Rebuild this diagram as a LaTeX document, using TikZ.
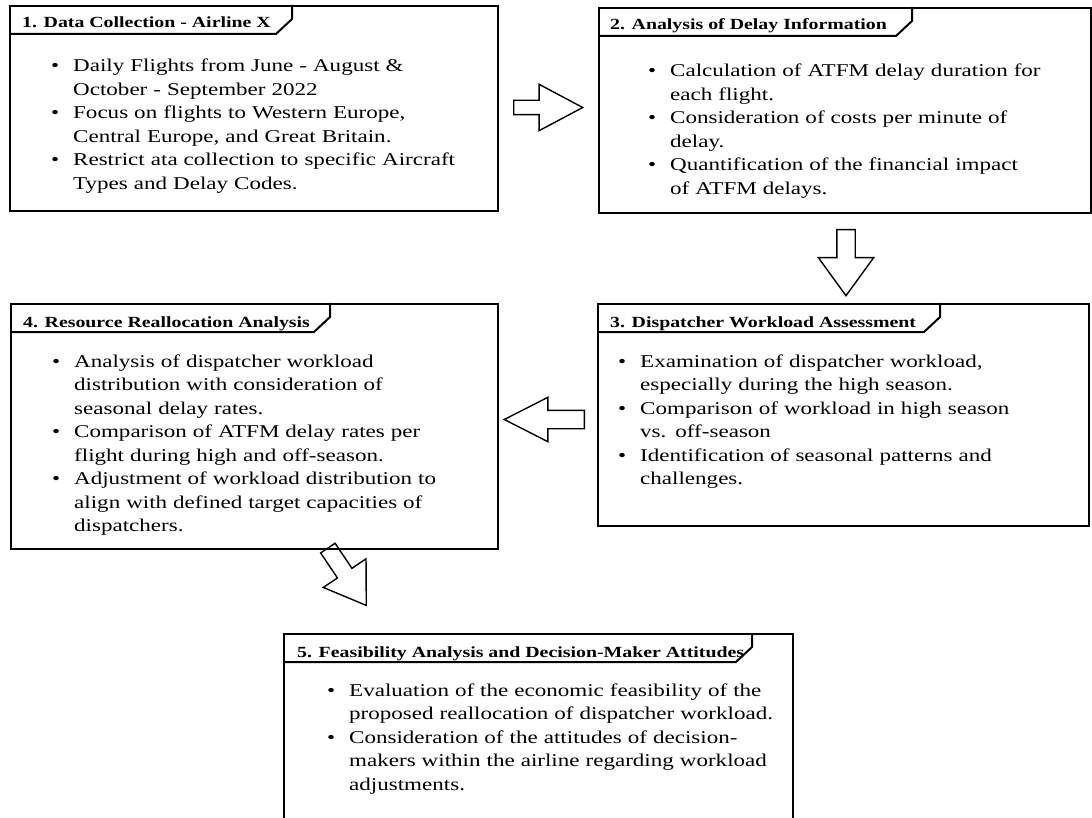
\documentclass[tikz,border=0pt]{standalone}
\usepackage{fontspec}
\setmainfont{Liberation Serif}[FakeStretch=1.28]
\usetikzlibrary{shapes.arrows,calc}
\newcommand{\bpt}{\leavevmode\llap{\textbullet\hspace{14pt}}}
\tikzset{
  stage/.style={draw=black,line width=2pt,anchor=north west,inner sep=0pt},
  ttl/.style={font=\fontsize{15.5}{18}\selectfont\bfseries,anchor=base west,inner sep=0pt},
  body/.style={font=\fontsize{18}{23.5}\selectfont,text width=480pt,align=left,
    anchor=base west,inner sep=0pt},
  bigarrow/.style={single arrow,draw=black,line width=1.4pt,inner xsep=0pt,
    inner ysep=#1,minimum width=0pt,anchor=tail},
  % title tab of a frame
  pics/tab/.style={code={
    \draw[line width=2pt] (0,29) -- (#1-16,29) -- (#1,14) -- (#1,0);
  }},
}

\begin{document}
\begin{tikzpicture}[x=1pt,y=-1pt]
  \useasboundingbox (0,0) rectangle (1092,818);
  \clip (0,0) rectangle (1092,818);
  \fill[white] (0,0) rectangle (1092,818);

  % frames
  \node[stage,minimum width=488,minimum height=205] (collect) at (9,5) {};
  \node[stage,minimum width=492,minimum height=205] (delay) at (598,7) {};
  \node[stage,minimum width=491,minimum height=222] (workload) at (597,303) {};
  \node[stage,minimum width=487,minimum height=245] (realloc) at (10,303) {};
  \node[stage,minimum width=509,minimum height=200] (feasible) at (283,633) {};

  \pic at (collect.north west) {tab=283};
  \pic at (delay.north west) {tab=314};
  \pic at (workload.north west) {tab=343};
  \pic at (realloc.north west) {tab=320};
  \pic at (feasible.north west) {tab=469};

  % titles
  \node[ttl] (collect-t) at ($(collect.north west)+(13,23)$) {1. Data Collection - Airline X};
  \node[ttl] (delay-t) at ($(delay.north west)+(12,23)$) {2. Analysis of Delay Information};
  \node[ttl] (workload-t) at ($(workload.north west)+(13,24)$) {3. Dispatcher Workload Assessment};
  \node[ttl] (realloc-t) at ($(realloc.north west)+(13,24)$) {4. Resource Reallocation Analysis};
  \node[ttl] (feasible-t) at ($(feasible.north west)+(14,24)$) {5. Feasibility Analysis and Decision-Maker Attitudes};

  % contents
  \node[body] (collect-b) at ($(collect.north west)+(64,67)$) {%
    \bpt Daily Flights from June - August \&\\
    October - September 2022\\
    \bpt Focus on flights to Western Europe,\\
    Central Europe, and Great Britain.\\
    \bpt Restrict ata collection to specific Aircraft\\
    Types and Delay Codes.};
  \node[body] (delay-b) at ($(delay.north west)+(72,70)$) {%
    \bpt Calculation of ATFM delay duration for\\
    each flight.\\
    \bpt Consideration of costs per minute of\\
    delay.\\
    \bpt Quantification of the financial impact\\
    of ATFM delays.};
  \node[body] (workload-b) at ($(workload.north west)+(43,64)$) {%
    \bpt Examination of dispatcher workload,\\
    especially during the high season.\\
    \bpt Comparison of workload in high season\\
    vs. off-season\\
    \bpt Identification of seasonal patterns and\\
    challenges.};
  \node[body] (realloc-b) at ($(realloc.north west)+(64,64)$) {%
    \bpt Analysis of dispatcher workload\\
    distribution with consideration of\\
    seasonal delay rates.\\
    \bpt Comparison of ATFM delay rates per\\
    flight during high and off-season.\\
    \bpt Adjustment of workload distribution to\\
    align with defined target capacities of\\
    dispatchers.};
  \node[body] (feasible-b) at ($(feasible.north west)+(66,63)$) {%
    \bpt Evaluation of the economic feasibility of the\\
    proposed reallocation of dispatcher workload.\\
    \bpt Consideration of the attitudes of decision-\\
    makers within the airline regarding workload\\
    adjustments.};

  % block arrows
  \node[bigarrow=6.5pt,minimum height=69,single arrow head extend=16,
    single arrow tip angle=56] (a12) at ($(collect.east)+(14,-1)$) {};
  \node[bigarrow=8.5pt,minimum height=66,single arrow head extend=18.5,
    single arrow tip angle=72,rotate=-90] (a23) at ($(delay.south)+(1,15)$) {};
  \node[bigarrow=8.5pt,minimum height=80,single arrow head extend=13,
    single arrow tip angle=54,rotate=180] (a34) at ($(workload.west)+(-12,4.5)$) {};
  \node[bigarrow=8pt,minimum height=69,single arrow head extend=17,
    single arrow tip angle=67,rotate=-56.2] (a45) at ($(realloc.south west)+(317.5,-2.5)$) {};
\end{tikzpicture}
\end{document}
